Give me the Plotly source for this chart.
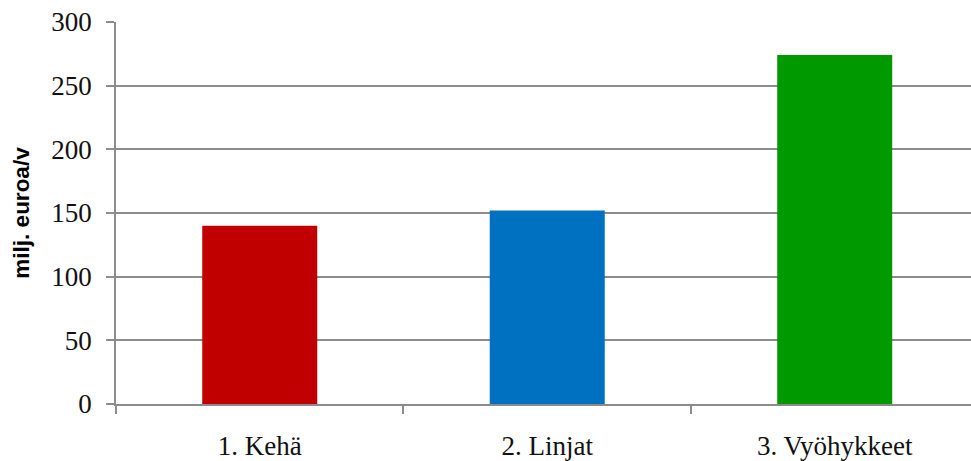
import plotly.graph_objects as go

categories = ["1. Kehä", "2. Linjat", "3. Vyöhykkeet"]
values = [140, 152, 274]
colors = ["#C00000", "#0070C0", "#009900"]
y_ticks = [0, 50, 100, 150, 200, 250, 300]

x_pos = list(range(len(categories)))

fig = go.Figure()
fig.add_trace(go.Bar(
    x=x_pos, y=values, marker=dict(color=colors, line=dict(width=0)),
    width=0.4, showlegend=False, hoverinfo="skip",
))

grid_col = "#8c8c8c"
fig.update_layout(
    width=971, height=461,
    margin=dict(l=116, r=0, t=22, b=55),
    plot_bgcolor="white", paper_bgcolor="white",
    xaxis=dict(
        range=[-0.5, 2.474],
        tickvals=x_pos, ticktext=categories, ticks="",
        tickfont=dict(family="Liberation Serif", size=27, color="#111111"),
        ticklabelstandoff=17,
        showline=True, linecolor=grid_col, linewidth=1.5,
        showgrid=False, zeroline=False, layer="above traces",
        minor=dict(tick0=-0.5, dtick=1, ticks="outside", ticklen=8,
                   tickcolor=grid_col, tickwidth=1.5, showgrid=False),
    ),
    yaxis=dict(
        range=[0, 300], tickvals=y_ticks,
        ticks="outside", ticklen=8, tickcolor=grid_col, tickwidth=1.5,
        tickfont=dict(family="Liberation Serif", size=27, color="#111111"),
        ticklabelstandoff=9,
        showline=True, linecolor=grid_col, linewidth=1.5,
        showgrid=True, gridcolor=grid_col, gridwidth=1.5, zeroline=False,
        title=dict(text="milj. euroa/v", standoff=15,
                   font=dict(family="Liberation Sans", size=22.5, color="black", weight="bold")),
    ),
)

fig.write_html("out.html")
